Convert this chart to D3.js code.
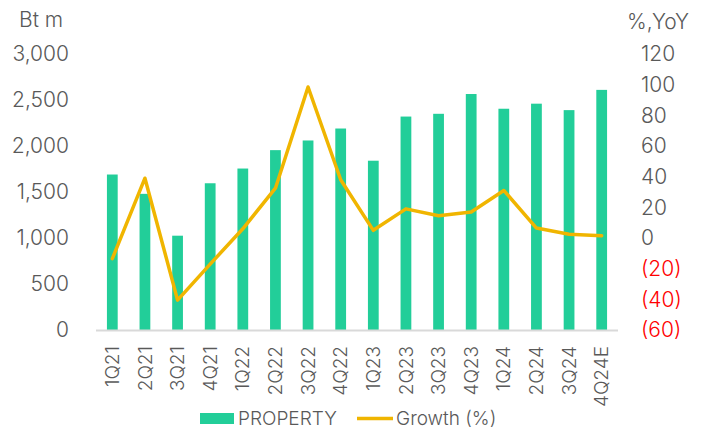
<!DOCTYPE html>
<html>
<head>
<meta charset="utf-8">
<script src="https://cdn.jsdelivr.net/npm/d3@7"></script>
<style>
  body { margin: 0; background: #fff; }
  svg { display: block; font-family: Inter, Roboto, "Noto Sans", sans-serif; font-weight: 300; }
</style>
</head>
<body>
<svg id="chart" width="710" height="430"></svg>
<script>
const quarters = ['1Q21', '2Q21', '3Q21', '4Q21', '1Q22', '2Q22', '3Q22', '4Q22',
  '1Q23', '2Q23', '3Q23', '4Q23', '1Q24', '2Q24', '3Q24', '4Q24E']
const property = [1690, 1480, 1025, 1595, 1755, 1955, 2060, 2190,
  1840, 2320, 2350, 2565, 2405, 2460, 2390, 2610]
const growth = [-13.5, 39, -40.5, -17, 6, 32.5, 98.5, 38,
  5, 19, 14.5, 17, 31, 6.5, 2.5, 1.5]
const leftTicks = [0, 500, 1000, 1500, 2000, 2500, 3000]
const rightTicks = [-60, -40, -20, 0, 20, 40, 60, 80, 100, 120]

const colors = {
  bar: '#22ce99',
  line: '#f0b500',
  text: '#595959',
  neg: '#ff0000',
  base: '#d9d9d9'
}

const svg = d3.select('#chart')

const plot = { left: 96, right: 618, top: 54, bottom: 330 }

const x = d3.scaleBand()
  .domain(quarters)
  .range([plot.left, plot.right])
  .paddingInner(0.67)
  .paddingOuter(0.335)

const yL = d3.scaleLinear().domain([0, 3000]).range([plot.bottom, plot.top])
const yR = d3.scaleLinear().domain([-60, 120]).range([plot.bottom, plot.top])

// bars
svg.append('g')
  .selectAll('rect')
  .data(property)
  .join('rect')
  .attr('x', (d, i) => x(quarters[i]))
  .attr('width', x.bandwidth())
  .attr('y', d => yL(d))
  .attr('height', d => yL(0) - yL(d))
  .attr('fill', colors.bar)

// baseline
svg.append('line')
  .attr('x1', plot.left).attr('x2', plot.right)
  .attr('y1', yL(0) + 0.5).attr('y2', yL(0) + 0.5)
  .attr('stroke', colors.base)
  .attr('stroke-width', 2)

// growth line
const line = d3.line()
  .x((d, i) => x(quarters[i]) + x.bandwidth() / 2)
  .y(d => yR(d))

svg.append('path')
  .datum(growth)
  .attr('d', line)
  .attr('fill', 'none')
  .attr('stroke', colors.line)
  .attr('stroke-width', 3.5)
  .attr('stroke-linejoin', 'round')
  .attr('stroke-linecap', 'round')

// left axis labels
svg.append('g')
  .selectAll('text')
  .data(leftTicks)
  .join('text')
  .attr('x', 69)
  .attr('y', d => yL(d))
  .attr('dy', '0.35em')
  .attr('text-anchor', 'end')
  .attr('font-size', 21)
  .attr('fill', colors.text)
  .text(d => d3.format(',')(d))

// right axis labels
const fmtR = d => d < 0 ? '(' + Math.abs(d) + ')' : String(d)
svg.append('g')
  .selectAll('text')
  .data(rightTicks)
  .join('text')
  .attr('x', 641)
  .attr('y', d => yR(d))
  .attr('dy', '0.35em')
  .attr('font-size', 21)
  .attr('fill', d => d < 0 ? colors.neg : colors.text)
  .text(fmtR)

// axis titles
svg.append('text')
  .attr('x', 19).attr('y', 20).attr('dy', '0.35em')
  .attr('font-size', 21).attr('fill', colors.text)
  .text('Bt m')
svg.append('text')
  .attr('x', 627).attr('y', 22).attr('dy', '0.35em')
  .attr('font-size', 21).attr('fill', colors.text)
  .text('%,YoY')

// x labels, rotated
svg.append('g')
  .selectAll('text')
  .data(quarters)
  .join('text')
  .attr('transform', d => `translate(${x(d) + x.bandwidth() / 2},346) rotate(-90)`)
  .attr('dy', '0.35em')
  .attr('text-anchor', 'end')
  .attr('font-size', 19)
  .attr('fill', colors.text)
  .text(d => d)

// legend
const legend = svg.append('g')
legend.append('rect')
  .attr('x', 200).attr('y', 413).attr('width', 34).attr('height', 11)
  .attr('fill', colors.bar)
legend.append('text')
  .attr('x', 238).attr('y', 418.5).attr('dy', '0.35em')
  .attr('font-size', 19).attr('fill', colors.text)
  .text('PROPERTY')
legend.append('line')
  .attr('x1', 357).attr('x2', 393).attr('y1', 418.5).attr('y2', 418.5)
  .attr('stroke', colors.line).attr('stroke-width', 3.5)
legend.append('text')
  .attr('x', 396).attr('y', 418.5).attr('dy', '0.35em')
  .attr('font-size', 19).attr('fill', colors.text)
  .text('Growth (%)')
</script>
</body>
</html>
